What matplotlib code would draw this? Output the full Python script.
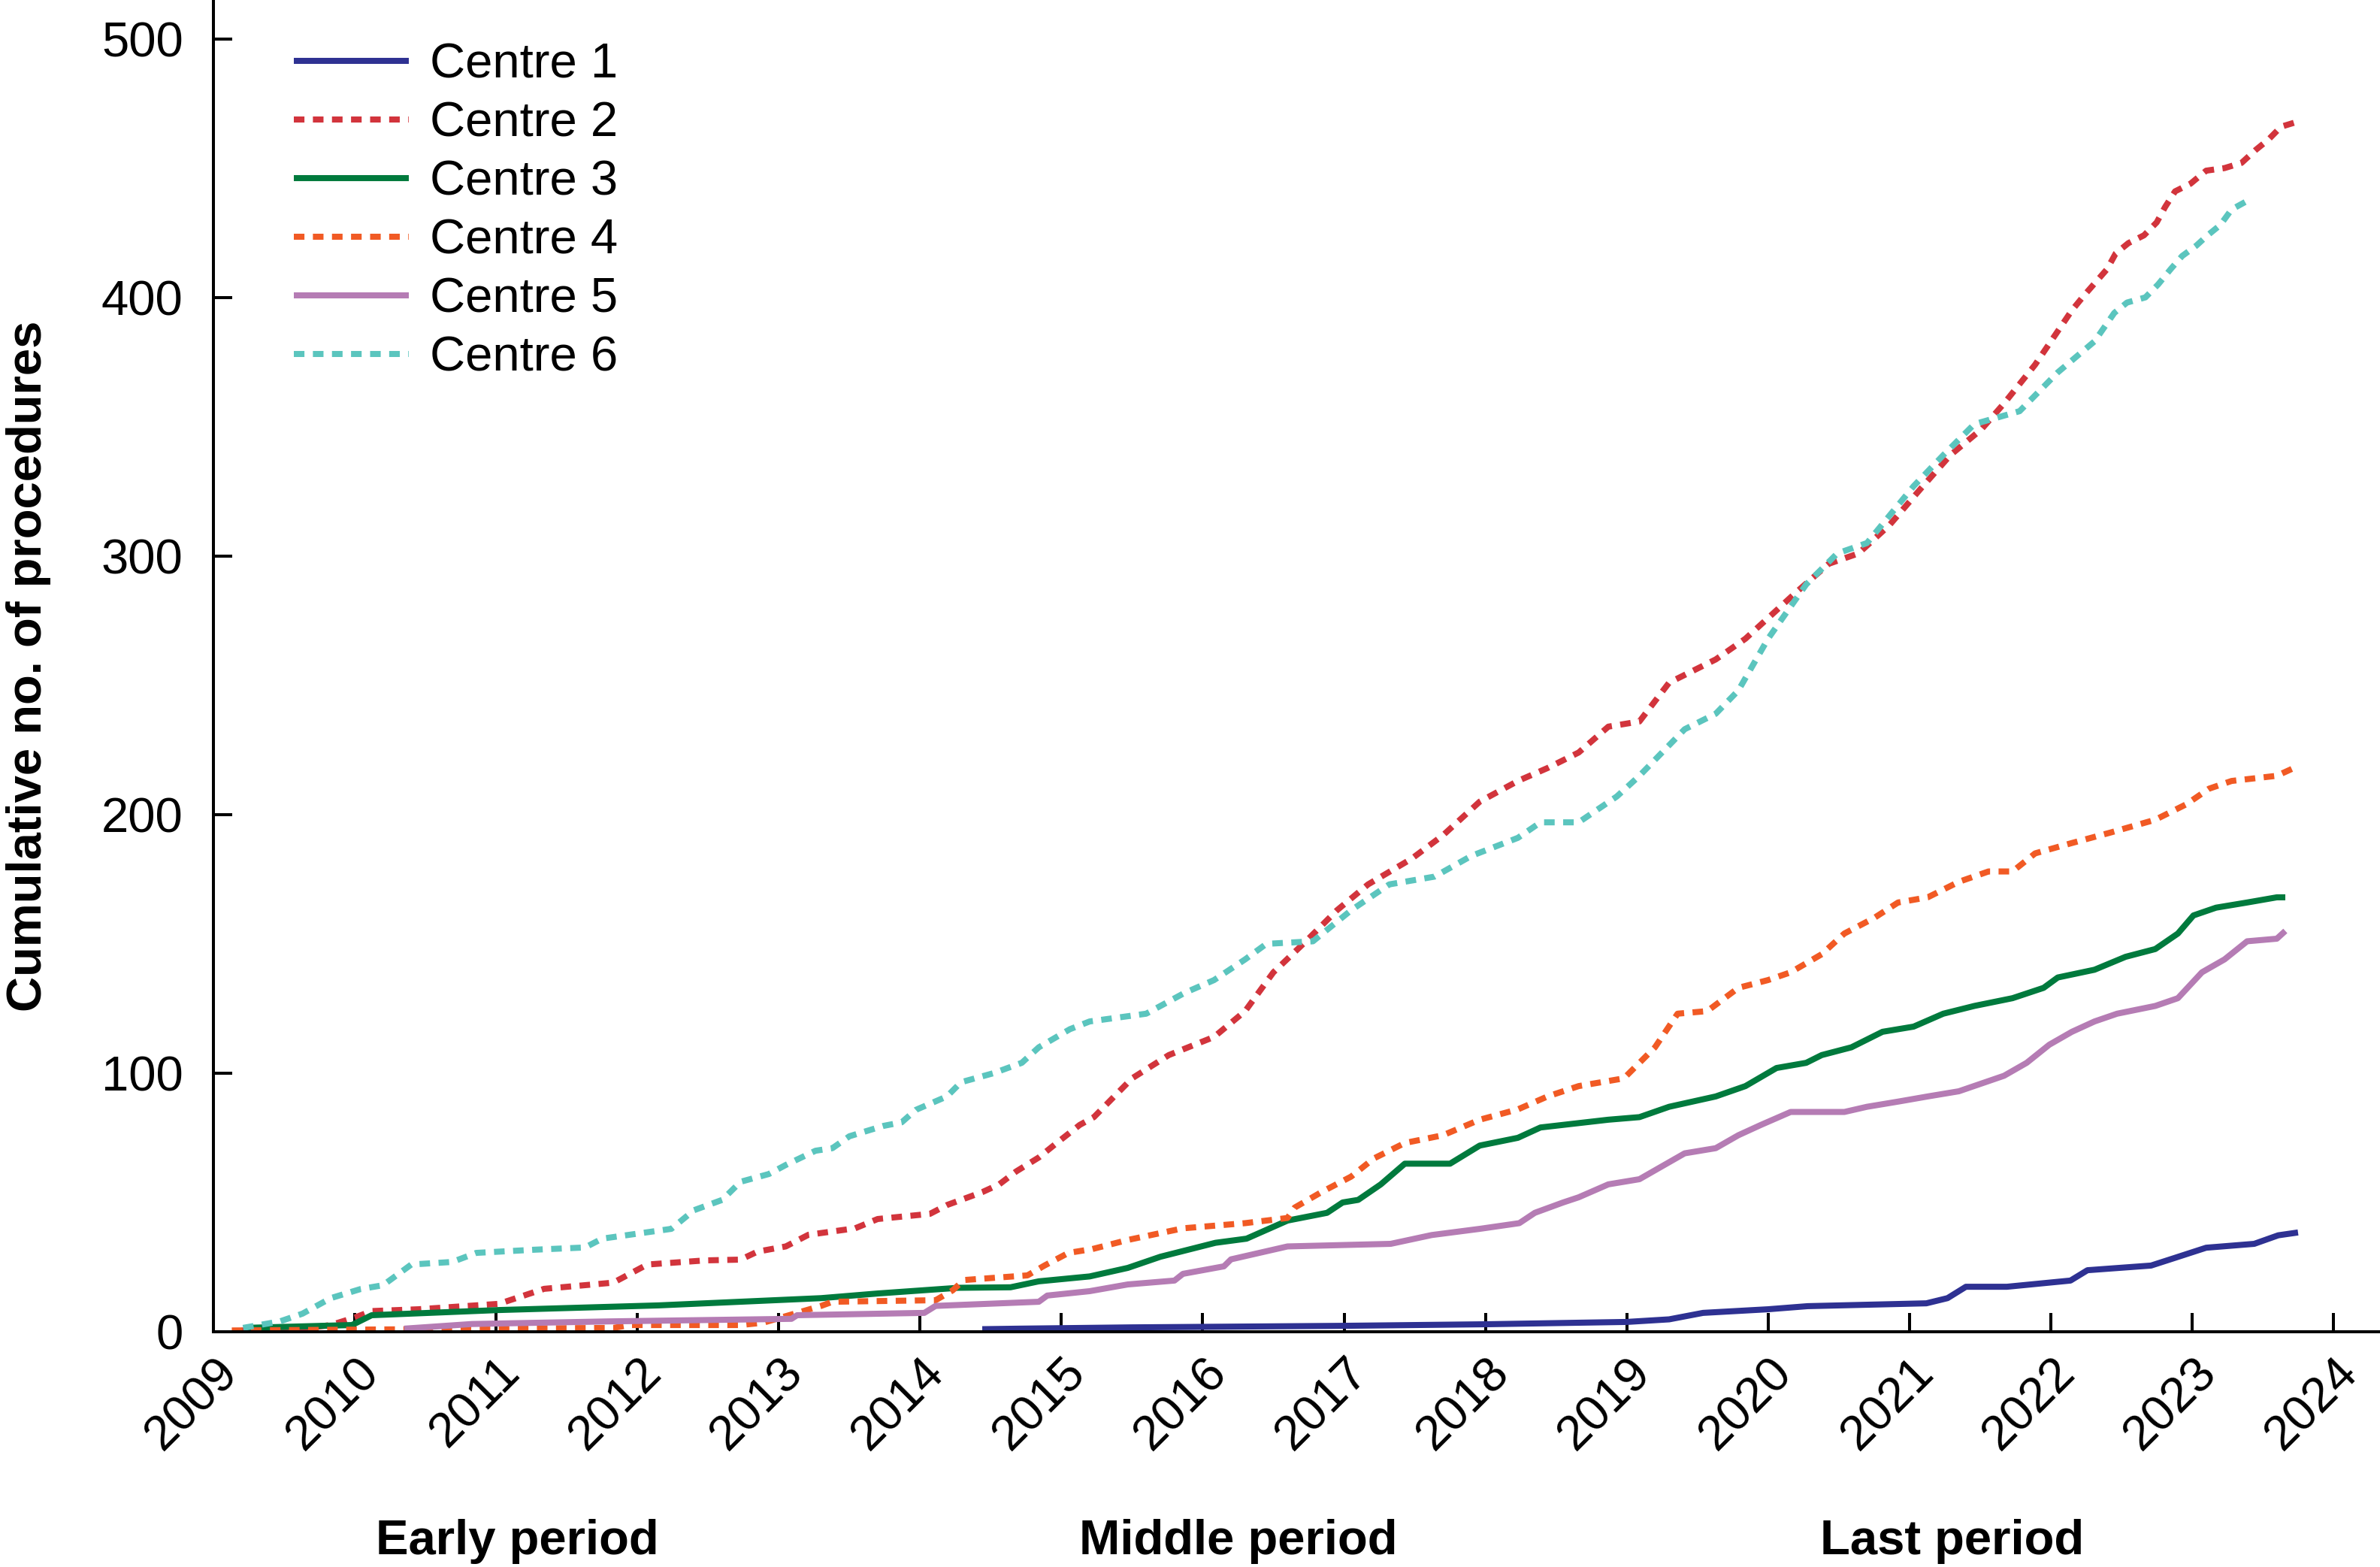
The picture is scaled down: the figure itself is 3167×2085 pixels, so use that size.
import matplotlib
matplotlib.use("Agg")
import matplotlib.pyplot as plt
import matplotlib.transforms as mtransforms

plt.rcParams['font.family'] = ['Liberation Sans', 'DejaVu Sans']

# cumulative procedures per centre (decimal year, count)
c1_years = [2014.44, 2014.7, 2015.5, 2017.0, 2018.0, 2019.0, 2019.3, 2019.54, 2020.0, 2020.28,
            2021.12, 2021.27, 2021.4, 2021.69, 2022.14, 2022.26, 2022.71, 2022.88, 2023.1, 2023.44,
            2023.61, 2023.75]
c1_counts = [1, 1.2, 1.7, 2.3, 2.9, 3.8, 4.8, 7.3, 8.7, 9.9,
             11, 13, 17.4, 17.4, 19.8, 23.8, 25.6, 28.6, 32.5, 34,
             37.3, 38.4]

c2_years = [2009.2, 2009.6, 2009.83, 2010.0, 2010.12, 2010.45, 2011.02, 2011.18, 2011.34, 2011.83,
            2012.07, 2012.48, 2012.73, 2012.85, 2013.05, 2013.21, 2013.54, 2013.7, 2014.07, 2014.19,
            2014.44, 2014.56, 2014.68, 2014.84, 2014.96, 2015.13, 2015.23, 2015.5, 2015.76, 2016.08,
            2016.3, 2016.5, 2016.73, 2016.95, 2017.17, 2017.48, 2017.7, 2017.96, 2018.23, 2018.44,
            2018.66, 2018.87, 2019.09, 2019.3, 2019.63, 2019.84, 2020.0, 2020.2, 2020.43, 2020.64,
            2020.86, 2021.08, 2021.29, 2021.51, 2021.67, 2021.89, 2022.15, 2022.24, 2022.32, 2022.4,
            2022.46, 2022.55, 2022.66, 2022.75, 2022.81, 2022.88, 2022.99, 2023.1, 2023.23, 2023.35,
            2023.45, 2023.54, 2023.63, 2023.75]
c2_counts = [0.5, 1, 2.6, 5.5, 8, 8.7, 10.8, 13.7, 16.6, 19,
             26, 27.6, 27.9, 31, 33, 37.5, 40, 43.6, 45.6, 49,
             54, 57, 62, 67.4, 72.7, 80, 83, 98, 107, 114,
             124, 139, 151, 163, 173, 183, 192, 205, 213, 218,
             224, 234, 236, 251, 260, 268, 276, 286, 297, 301,
             312, 326, 339, 349, 359, 374, 395, 401, 406, 411,
             417, 421, 424, 429, 435, 441, 444, 449, 450, 452,
             457, 461, 466, 468]

c3_years = [2009.23, 2009.98, 2010.12, 2011.02, 2012.15, 2013.3, 2013.7, 2014.27, 2014.64, 2014.84,
            2015.2, 2015.47, 2015.7, 2016.09, 2016.31, 2016.6, 2016.88, 2016.99, 2017.1, 2017.26,
            2017.43, 2017.75, 2017.96, 2018.23, 2018.39, 2018.87, 2019.09, 2019.3, 2019.63, 2019.84,
            2020.06, 2020.27, 2020.38, 2020.59, 2020.81, 2021.03, 2021.24, 2021.46, 2021.73, 2021.95,
            2022.05, 2022.31, 2022.53, 2022.74, 2022.9, 2023.01, 2023.17, 2023.39, 2023.6, 2023.66]
c3_counts = [1.5, 2.6, 6.4, 8.4, 10.2, 13, 14.8, 17, 17.2, 19.5,
             21.4, 24.7, 29, 34.4, 36, 43, 46, 50, 51, 57,
             65, 65, 72, 75, 79, 82, 83, 87, 91, 95,
             102, 104, 107, 110, 116, 118, 123, 126, 129, 133,
             137, 140, 145, 148, 154, 161, 164, 166, 168, 168]

c4_years = [2009.13, 2011.83, 2011.95, 2012.73, 2012.89, 2013.13, 2013.3, 2013.38, 2014.11, 2014.23,
            2014.31, 2014.76, 2014.88, 2015.05, 2015.22, 2015.47, 2015.86, 2016.3, 2016.6, 2016.65,
            2016.84, 2017.05, 2017.21, 2017.43, 2017.7, 2017.96, 2018.23, 2018.44, 2018.66, 2018.98,
            2019.2, 2019.36, 2019.57, 2019.79, 2020.0, 2020.16, 2020.38, 2020.54, 2020.75, 2020.92,
            2021.13, 2021.35, 2021.56, 2021.73, 2021.89, 2022.15, 2022.42, 2022.74, 2022.96, 2023.12,
            2023.28, 2023.6, 2023.76]
c4_counts = [0.5, 1.5, 2.6, 2.6, 3.5, 7.3, 10, 11.6, 12.2, 16,
             20, 21.8, 25.6, 30.5, 32, 35.5, 40, 42, 44, 48,
             54, 60, 67, 73, 76, 82, 86, 91, 95, 98,
             110, 123, 124, 133, 136, 139, 146, 154, 160, 166,
             168, 174, 178, 178, 185, 189, 193, 198, 204, 210,
             213, 215, 219]

c5_years = [2010.35, 2010.83, 2011.79, 2013.09, 2013.13, 2014.03, 2014.11, 2014.84, 2014.9, 2015.2,
            2015.47, 2015.8, 2015.86, 2016.15, 2016.2, 2016.6, 2017.33, 2017.62, 2017.96, 2018.24,
            2018.35, 2018.55, 2018.66, 2018.87, 2019.09, 2019.25, 2019.41, 2019.63, 2019.79, 2019.95,
            2020.16, 2020.54, 2020.7, 2020.92, 2021.13, 2021.35, 2021.51, 2021.67, 2021.83, 2021.99,
            2022.15, 2022.31, 2022.47, 2022.74, 2022.9, 2023.07, 2023.23, 2023.39, 2023.6, 2023.66]
c5_counts = [1.2, 3, 4, 5, 6.4, 7.3, 10, 11.6, 14, 15.7,
             18.3, 19.8, 22.4, 25.3, 28, 33, 34, 37.4, 39.8, 42,
             46, 50, 52, 57, 59, 64, 69, 71, 76, 80,
             85, 85, 87, 89, 91, 93, 96, 99, 104, 111,
             116, 120, 123, 126, 129, 139, 144, 151, 152, 155]

c6_years = [2009.21, 2009.47, 2009.63, 2009.83, 2010.04, 2010.2, 2010.4, 2010.69, 2010.86, 2011.26,
            2011.63, 2011.75, 2012.24, 2012.4, 2012.6, 2012.73, 2012.93, 2013.05, 2013.26, 2013.38,
            2013.5, 2013.74, 2013.87, 2013.97, 2014.19, 2014.29, 2014.52, 2014.72, 2014.84, 2015.06,
            2015.2, 2015.6, 2015.87, 2016.08, 2016.3, 2016.45, 2016.78, 2017.05, 2017.32, 2017.64,
            2017.9, 2018.23, 2018.39, 2018.66, 2018.93, 2019.09, 2019.41, 2019.63, 2019.79, 2020.0,
            2020.27, 2020.49, 2020.7, 2021.03, 2021.24, 2021.46, 2021.78, 2022.05, 2022.31, 2022.45,
            2022.54, 2022.67, 2022.76, 2022.85, 2022.93, 2023.03, 2023.11, 2023.2, 2023.28, 2023.38]
c6_counts = [1.5, 4, 7, 13, 16.5, 18, 26, 27, 30.5, 31.7,
             32.6, 36, 39.8, 47, 51, 58, 61, 64.5, 70, 71,
             75.6, 79.6, 81, 85.8, 91, 96.5, 100, 104, 110, 117,
             120, 123, 131, 136, 144, 150, 151, 163, 173, 176,
             184, 191, 197, 197, 207, 215, 233, 239, 248, 268,
             289, 301, 305, 327, 339, 351, 356, 371, 383, 394,
             398, 400, 405, 411, 416, 420, 424, 428, 434, 437]

year_ticks = list(range(2009, 2025))
periods = ["Early period", "Middle period", "Last period"]

series = [
    ("Centre 1", c1_years, c1_counts, "#2e3192", "solid"),
    ("Centre 2", c2_years, c2_counts, "#d2343c", "dot"),
    ("Centre 3", c3_years, c3_counts, "#007a3d", "solid"),
    ("Centre 4", c4_years, c4_counts, "#f15a24", "dot"),
    ("Centre 5", c5_years, c5_counts, "#b57cb4", "solid"),
    ("Centre 6", c6_years, c6_counts, "#5bc5be", "dot"),
]

fig = plt.figure(figsize=(31.67, 20.85), dpi=100)
ax = fig.add_axes([284 / 3167, 1 - 1772 / 2085, 1 - 284 / 3167, 1772 / 2085])

for name, xs, ys, col, style in series:
    if style == "dot":
        ax.plot(xs, ys, color=col, lw=5.8, dashes=(1.75, 1.4), dash_capstyle="butt", label=name)
    else:
        ax.plot(xs, ys, color=col, lw=5.8, solid_capstyle="butt", label=name)

ax.set_xlim(2009, 2024.33)
ax.set_ylim(0, 515)
ax.set_yticks([0, 100, 200, 300, 400, 500])
ax.set_xticks(year_ticks)
ax.set_xticklabels([str(y) for y in year_ticks])

for s in ["top", "right"]:
    ax.spines[s].set_visible(False)
for s in ["left", "bottom"]:
    ax.spines[s].set_linewidth(2.9)

ax.tick_params(axis="both", direction="in", length=18, width=2.9, labelsize=47, colors="black")
ax.tick_params(axis="y", pad=29)
ax.tick_params(axis="x", pad=41)

offset = mtransforms.ScaledTranslation(25 / 72, 0, fig.dpi_scale_trans)
for lab in ax.get_xticklabels():
    lab.set_rotation(45)
    lab.set_ha("right")
    lab.set_va("baseline")
    lab.set_rotation_mode("anchor")
    lab.set_transform(lab.get_transform() + offset)

fig.text(38 / 3167, 1 - 886 / 2085, "Cumulative no. of procedures", rotation=90,
         ha="center", va="center", fontsize=47, fontweight="bold")

period_x = [688 / 3167, 1648 / 3167, 2598 / 3167]
for px, txt in zip(period_x, periods):
    fig.text(px, 1 - 2068 / 2085, txt, ha="center", va="baseline", fontsize=47, fontweight="bold")

leg = ax.legend(loc="upper left", bbox_to_anchor=(391 / 3167, 1 - 57 / 2085),
                bbox_transform=fig.transFigure, frameon=False, fontsize=47,
                handlelength=2.34, handletextpad=0.44, labelspacing=0.275,
                borderpad=0, borderaxespad=0)

fig.savefig("out.png", dpi=100)
